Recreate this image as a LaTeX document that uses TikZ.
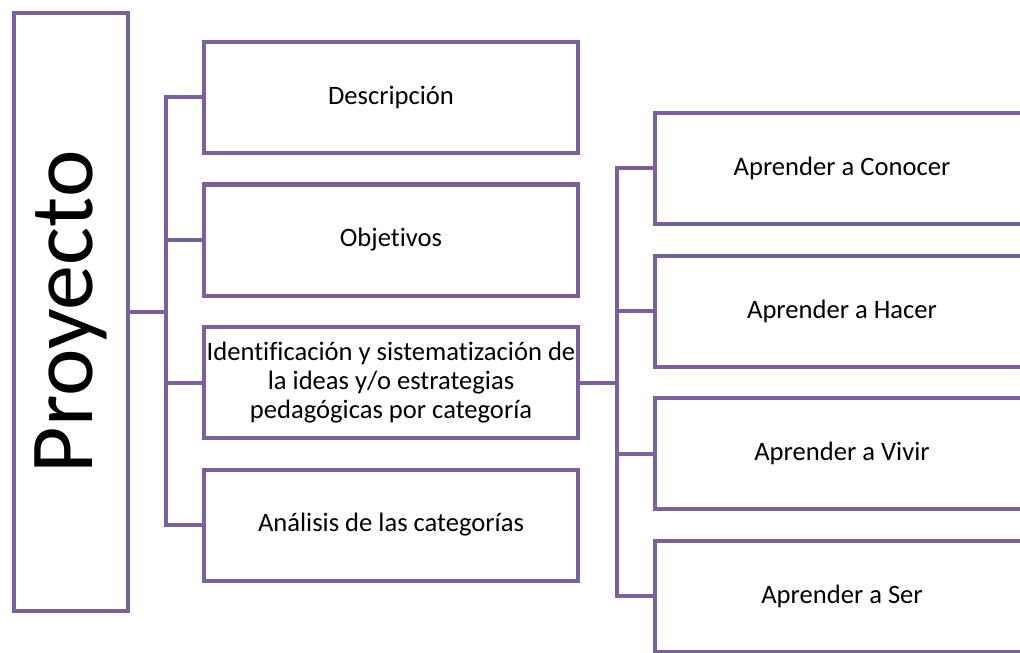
\documentclass[tikz,border=0pt]{standalone}
\usepackage{fontspec}
\setmainfont[Ligatures=NoCommon]{Carlito}
\usepackage{graphicx}
\usepackage{tikz}
\usetikzlibrary{positioning}
\definecolor{boxPurple}{RGB}{122,96,158}
\tikzset{
    x=0.5pt, y=-0.5pt, % one unit per pixel of the layout
    line join=round,
}

\begin{document}
\begin{tikzpicture}[
                    styleBox/.style={draw=boxPurple, line width=2pt, rectangle, minimum width=187pt, minimum height=55.5pt, inner xsep=0pt, align=center, font=\fontsize{13.3}{14.5}\selectfont},
                    styleLink/.style={draw=boxPurple, line width=2pt},
                    node distance=71.25pt, on grid,
                ]
                \useasboundingbox (0,0) rectangle (1020,652);
                \clip (0,0) rectangle (1020,652);
                \node[styleBox, minimum width=57pt, minimum height=299pt, font=\fontsize{45}{45}\selectfont] (proy) at (71,312) {\rotatebox{90}{Proyecto}};
                \node[styleBox] (desc) at (391,97.5) {Descripción};
                \node[styleBox, below=of desc] (obj) {Objetivos};
                \node[styleBox, below=of obj] (ident) {Identificación y sistematización de\\la ideas y/o estrategias\\pedagógicas por categoría};
                \node[styleBox, below=of ident] (anal) {Análisis de las categorías};
                \node[styleBox] (conoc) at (842,168.5) {Aprender a Conocer};
                \node[styleBox, below=of conoc] (hacer) {Aprender a Hacer};
                \node[styleBox, below=of hacer] (vivir) {Aprender a Vivir};
                \node[styleBox, below=of vivir] (ser) {Aprender a Ser};
                \foreach \n in {desc,obj,ident,anal}
                    \draw[styleLink] (\n.west) -- ++(-36,0) |- (proy.east);
                \foreach \n in {conoc,hacer,vivir,ser}
                    \draw[styleLink] (\n.west) -- ++(-36,0) |- (ident.east);
            \end{tikzpicture}
\end{document}
